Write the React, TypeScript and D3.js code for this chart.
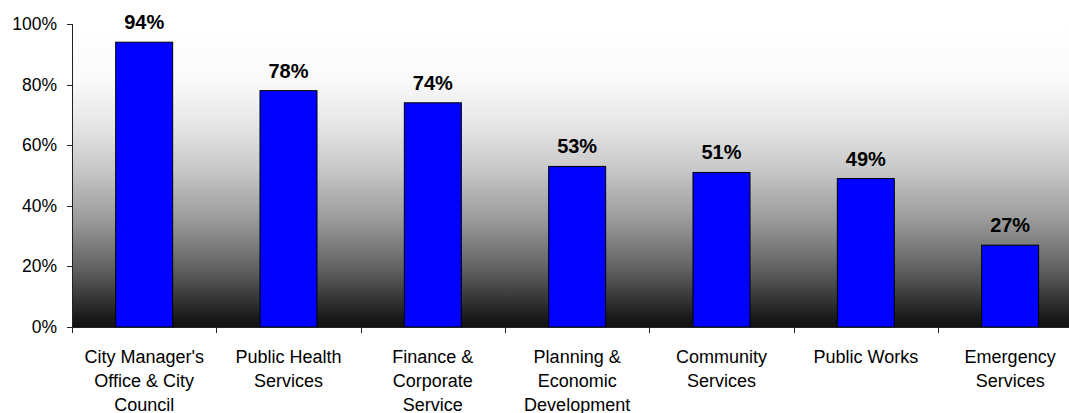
import React from "react";
import * as d3 from "d3";

const categories = [
  "City Manager's Office & City Council",
  "Public Health Services",
  "Finance & Corporate Service",
  "Planning & Economic Development",
  "Community Services",
  "Public Works",
  "Emergency Services",
];
const categoryLines = [
  ["City Manager's", "Office & City", "Council"],
  ["Public Health", "Services"],
  ["Finance &", "Corporate", "Service"],
  ["Planning &", "Economic", "Development"],
  ["Community", "Services"],
  ["Public Works"],
  ["Emergency", "Services"],
];
const values = [0.94, 0.78, 0.74, 0.53, 0.51, 0.49, 0.27];
const yTicks = [0, 0.2, 0.4, 0.6, 0.8, 1.0];

const W = 1069;
const H = 413;
const left = 72;
const top = 24;
const bottom = 327;
const bandW = 144.33;
const right = left + bandW * categories.length;

export default function App() {
  const x = d3.scaleBand<string>().domain(categories).range([left, right]).paddingInner(0.6).paddingOuter(0.3);
  const xOuter = d3.scaleBand<string>().domain(categories).range([left, right]);
  const y = d3.scaleLinear().domain([0, 1]).range([bottom, top]);
  const fmt = d3.format(".0%");
  const font = "'Liberation Sans', Arial, sans-serif";
  const gStops: [number, string][] = [
    [0, "#ffffff"],
    [0.18, "#fafafa"],
    [0.32, "#e8e8e8"],
    [0.48, "#c8c8c8"],
    [0.65, "#999999"],
    [0.81, "#606060"],
    [0.97, "#1a1a1a"],
    [1, "#111111"],
  ];
  return (
    <svg width={W} height={H} style={{ position: "absolute", left: 0, top: 0, display: "block" }} fontFamily={font}>
      <defs>
        <linearGradient id="bg" x1="0" y1="0" x2="0" y2="1">
          {gStops.map(([o, c], i) => (
            <stop key={i} offset={o} stopColor={c} />
          ))}
        </linearGradient>
      </defs>
      <rect x={left} y={top} width={right - left} height={bottom - top} fill="url(#bg)" />
      {categories.map((c, i) => (
        <rect
          key={c}
          x={(xOuter(c) as number) + bandW / 2 - 28.5}
          y={y(values[i])}
          width={57}
          height={bottom - y(values[i])}
          fill="#0000ff"
          stroke="#000"
          strokeWidth={1}
        />
      ))}
      {categories.map((c, i) => (
        <text
          key={c + "v"}
          x={(xOuter(c) as number) + bandW / 2}
          y={y(values[i]) - 13}
          textAnchor="middle"
          fontWeight="bold"
          fontSize={20}
          fill="#000"
        >
          {fmt(values[i])}
        </text>
      ))}
      {/* y axis */}
      <line x1={left + 0.5} x2={left + 0.5} y1={top} y2={bottom + 6} stroke="#222" />
      {yTicks.map((t) => (
        <g key={t}>
          <line x1={left - 5} x2={left} y1={Math.round(y(t)) + 0.5} y2={Math.round(y(t)) + 0.5} stroke="#222" />
          <text x={57} y={y(t) + 6} textAnchor="end" fontSize={17.5} fill="#000">
            {fmt(t)}
          </text>
        </g>
      ))}
      {/* x axis */}
      <line x1={left} x2={right} y1={bottom + 0.5} y2={bottom + 0.5} stroke="#222" />
      {categories.map((c, i) =>
        i === 0 ? null : (
          <line
            key={c + "t"}
            x1={Math.round(xOuter(c) as number) + 0.5}
            x2={Math.round(xOuter(c) as number) + 0.5}
            y1={bottom}
            y2={bottom + 6}
            stroke="#222"
          />
        )
      )}
      {categories.map((c, i) => (
        <text key={c + "l"} textAnchor="middle" fontSize={18} fill="#000">
          {categoryLines[i].map((ln, j) => (
            <tspan key={j} x={(xOuter(c) as number) + bandW / 2} y={362.5 + j * 24}>
              {ln}
            </tspan>
          ))}
        </text>
      ))}
    </svg>
  );
}
